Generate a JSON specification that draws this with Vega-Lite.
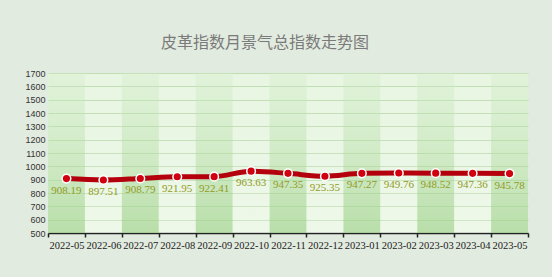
{
  "$schema": "https://vega.github.io/schema/vega-lite/v6.json",
  "width": 480,
  "height": 160,
  "autosize": "none",
  "padding": {"left": 48, "top": 73, "right": 24, "bottom": 44},
  "background": "#e2ebdf",
  "config": {
    "view": {"fill": "#e6f5e0", "stroke": null},
    "axisY": {"title": null, "grid": true, "gridColor": "#bcdcae", "gridWidth": 1.2, "domain": false, "ticks": false, "labelFont": "Liberation Sans", "labelFontSize": 9, "labelColor": "#333333", "labelPadding": 3, "labelOverlap": false, "format": "d"}
  },
  "title": {"text": "皮革指数月景气总指数走势图", "font": "Noto Sans CJK SC", "fontSize": 16, "fontWeight": "normal", "color": "#7a7a7a", "dx": -23, "offset": 18, "anchor": "middle"},
  "data": {"values": [
    {"month": "2022-05", "value": 908.19},
    {"month": "2022-06", "value": 897.51},
    {"month": "2022-07", "value": 908.79},
    {"month": "2022-08", "value": 921.95},
    {"month": "2022-09", "value": 922.41},
    {"month": "2022-10", "value": 963.63},
    {"month": "2022-11", "value": 947.35},
    {"month": "2022-12", "value": 925.35},
    {"month": "2023-01", "value": 947.27},
    {"month": "2023-02", "value": 949.76},
    {"month": "2023-03", "value": 948.52},
    {"month": "2023-04", "value": 947.36},
    {"month": "2023-05", "value": 945.78}
  ]},
  "encoding": {
    "x": {
      "field": "month", "type": "ordinal", "sort": null,
      "scale": {"domain": ["2022-05","2022-06","2022-07","2022-08","2022-09","2022-10","2022-11","2022-12","2023-01","2023-02","2023-03","2023-04","2023-05"], "paddingInner": 0, "paddingOuter": 0},
      "axis": {"title": null, "labelAngle": 0, "tickBand": "extent", "domainColor": "#222222", "domainWidth": 1.5, "tickColor": "#222222", "tickSize": 4, "tickWidth": 1.5, "labelFont": "Liberation Serif", "labelFontSize": 10.5, "labelColor": "#222222", "labelPadding": 3, "grid": false, "labelOverlap": false}
    }
  },
  "layer": [
    {
      "transform": [{"filter": {"field": "month", "oneOf": ["2022-05","2022-07","2022-09","2022-11","2023-01","2023-03","2023-05"]}}],
      "mark": {"type": "bar", "color": {"gradient": "linear", "x1": 0, "y1": 0, "x2": 0, "y2": 1, "stops": [{"offset": 0, "color": "rgba(214,238,205,0.35)"}, {"offset": 1, "color": "rgba(160,210,140,0.65)"}]}},
      "encoding": {
        "y": {"datum": 1700, "type": "quantitative", "scale": {"domain": [500, 1700]},
          "axis": {"values": [500,600,700,800,900,1000,1100,1200,1300,1400,1500,1600,1700]}},
        "y2": {"datum": 500}
      }
    },
    {
      "transform": [{"filter": {"field": "month", "oneOf": ["2022-06","2022-08","2022-10","2022-12","2023-02","2023-04"]}}],
      "mark": {"type": "bar", "color": {"gradient": "linear", "x1": 0, "y1": 0, "x2": 0, "y2": 1, "stops": [{"offset": 0, "color": "rgba(255,255,255,0.05)"}, {"offset": 1, "color": "rgba(255,255,255,0.3)"}]}},
      "encoding": {
        "y": {"datum": 1700, "type": "quantitative", "axis": {"values": [500,600,700,800,900,1000,1100,1200,1300,1400,1500,1600,1700]}},
        "y2": {"datum": 500}
      }
    },
    {
      "mark": {"type": "line", "color": "#b4000c", "strokeWidth": 5, "interpolate": "monotone"},
      "encoding": {"y": {"field": "value", "type": "quantitative", "axis": {"values": [500,600,700,800,900,1000,1100,1200,1300,1400,1500,1600,1700]}}}
    },
    {
      "mark": {"type": "point", "filled": true, "fill": "#d0000f", "stroke": "white", "strokeWidth": 1.5, "size": 75, "opacity": 1},
      "encoding": {"y": {"field": "value", "type": "quantitative", "axis": {"values": [500,600,700,800,900,1000,1100,1200,1300,1400,1500,1600,1700]}}}
    },
    {
      "mark": {"type": "text", "dy": 12, "font": "Liberation Serif", "fontSize": 11, "color": "#929a1e"},
      "encoding": {"y": {"field": "value", "type": "quantitative", "axis": {"values": [500,600,700,800,900,1000,1100,1200,1300,1400,1500,1600,1700]}}, "text": {"field": "value", "type": "quantitative", "format": ".2f"}}
    }
  ]
}
